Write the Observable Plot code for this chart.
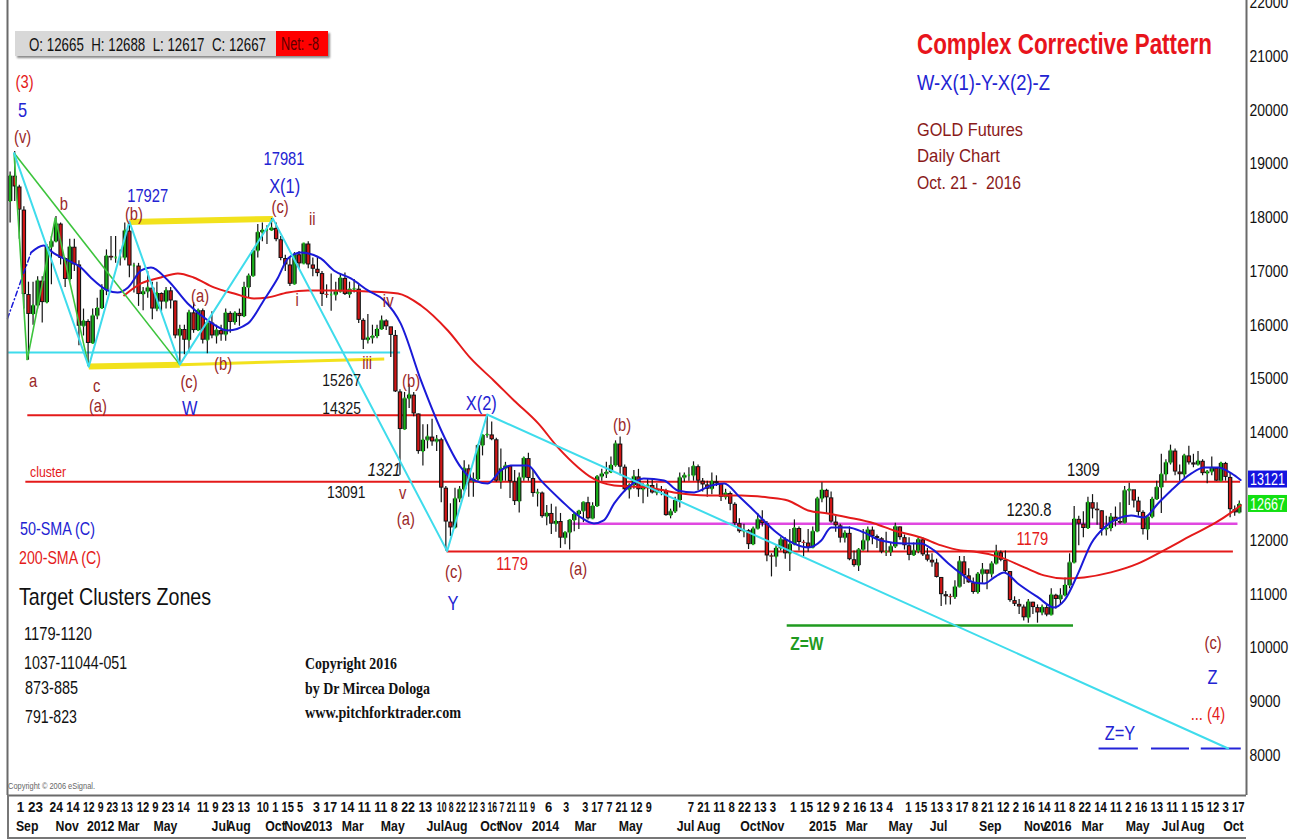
<!DOCTYPE html>
<html><head><meta charset="utf-8">
<script src="https://cdn.jsdelivr.net/npm/d3@7"></script>
<script src="https://cdn.jsdelivr.net/npm/@observablehq/plot@0.6"></script>
<style>
body{margin:0;background:#fff;}
#wrap{position:relative;width:1300px;height:840px;overflow:hidden;background:#fff;
 font-family:"Liberation Sans",Arial,sans-serif;}
#wrap svg{position:absolute;left:0;top:0;}
.t{position:absolute;white-space:pre;line-height:1;transform-origin:left center;transform:translateY(-50%);}
#info{position:absolute;left:15px;top:31px;width:313px;height:25px;background:#d8d8d8;box-shadow:2px 2px 2px #8a8a8a;}
#info .t{top:50%;font-size:19px;color:#111;}
#net{position:absolute;left:261px;top:0;width:52px;height:25px;background:#ff0000;}
#axbox{position:absolute;left:7px;top:795px;width:1239px;height:44px;border-bottom:2px solid #777;border-left:2px solid #777;box-sizing:border-box;}
</style></head><body><div id="wrap"></div>
<script>
// ---------------- DATA ----------------
// weekly candles (Wed of each week, Aug 31 2011 .. Oct 19 2016), price units as in chart (x10)
const firstWeek = "2011-08-31", lastWeekEnd = "2016-10-20";
const firstOpen = 18300;
const weeklyHigh = [
// 2011
18850,19230,18600,18200,16800,
16800,16900,16900,17500,
17650,18020,17900,17250,
17600,17600,17200,16300,16100,
// 2012
16300,16500,16750,17400,
17650,17650,17400,17900,
17927,17150,17150,16700,17000,
16800,16800,16600,16700,
16700,16450,16000,16000,
16280,16420,16300,16300,16050,
16250,16000,16000,16300,
16250,16250,16300,16800,16950,
17400,17870,17900,17850,
17981,17900,17650,17300,
17250,17350,17370,17520,17550,
17250,17250,17000,16750,
// 2013
16950,16800,16950,16970,
16800,16850,16750,16120,
16200,16000,16000,16170,16100,
15900,15900,14800,14750,
14900,14750,14350,14150,14150,
14250,13950,13900,13000,
12680,12970,13000,13480,
13400,13250,13770,13950,14340,
14200,13900,13700,13450,
13350,13300,13250,13550,
13620,13300,12950,12900,12650,
12670,12620,12500,12150,
// 2014
12380,12500,12550,12700,12800,
12700,13200,13320,13450,
13550,13850,13920,13400,
13050,13300,13320,13050,
13150,13150,13050,13000,12950,
12580,12800,13250,13250,
13350,13460,13400,13150,
13100,13250,13200,13050,12950,
12900,12700,12400,12300,
12200,12250,12500,12550,12350,
11750,11900,12050,12050,
12200,12380,12250,12000,
// 2015
12200,12250,12800,13070,12950,
12900,12450,12300,12180,
12250,11800,11850,12200,
12250,12250,12100,12050,
12150,11950,12320,12250,12100,
12050,11950,12050,12050,
11850,11750,11650,11300,11050,
11000,11250,11700,11700,
11470,11300,11400,11570,
11400,11600,11910,11800,11800,
11420,10950,10900,10800,
10900,10850,10800,10800,
// 2016
10800,11100,11000,11100,11300,
11750,12630,12450,12530,
12800,12850,12700,12550,
12450,12500,12620,12700,13000,
13060,12800,12800,12550,
12450,12800,13100,13600,
13500,13770,13700,13400,13600,
13750,13600,13650,13500,
13300,13550,13350,13450,13450,
13250,12640,12730];
const weeklyLow = [
// 2011
17900,18300,17600,16300,15350,
16000,16300,16040,16400,
16750,17550,17120,16700,
16800,17000,15620,15800,15230,
// 2012
15650,16100,16300,16550,
17200,17150,17100,17200,
16880,16600,16350,16270,16500,
16100,16250,16250,16300,
16300,15750,15267,15450,
15500,15850,15900,15650,15470,
15750,15650,15700,15700,
15850,16000,15980,16150,16500,
16900,17250,17550,17500,
17750,17550,17200,17000,
16720,16750,17050,17200,17050,
16900,16900,16350,16500,
// 2013
16260,16450,16600,16550,
16500,16600,16030,15550,
15650,15650,15750,15920,15900,
15400,14750,13210,14050,
14450,14300,13600,13380,13700,
13750,13650,12700,11800,
12070,12320,12700,12900,
12800,12800,13100,13570,13900,
13850,13080,12950,13100,
12780,12650,12510,13100,
13100,12800,12620,12410,12270,
12110,12150,11850,11920,
// 2014
11820,12160,12200,12330,12380,
12400,12630,13100,13150,
13300,13360,13200,12900,
12770,12950,12800,12680,
12800,12860,12830,12830,12450,
12400,12500,12600,13080,
13100,13100,12920,12900,
12800,12850,13000,12720,12750,
12550,12270,12130,12050,
11830,11970,12200,12250,11600,
11320,11500,11800,11650,
11420,11900,11800,11700,
// 2015
11780,11850,12150,12700,12500,
12320,12150,11950,11950,
11620,11500,11420,11800,
11780,11920,11850,11750,
11700,11700,11850,12000,11820,
11620,11700,11750,11700,
11600,11500,11300,10770,10800,
10800,10900,11150,11180,
11200,11000,11000,11200,
11080,11300,11550,11600,11400,
10850,10770,10620,10500,
10460,10620,10460,10600,
// 2016
10580,10620,10720,10800,10950,
11100,11600,11900,12050,
12250,12400,12280,12080,
12080,12160,12250,12300,12350,
12650,12600,12450,12100,
12000,12400,12750,12500,
13100,13400,13200,13100,13150,
13400,13350,13400,13200,
13050,13200,13100,13100,13100,
12420,12450,12510];
const weeklyClose = [
// 2011
18770,18570,18140,16570,16200,
16360,16820,16420,17450,
17550,17880,17240,16850,
17450,17120,15980,16070,15660,
// 2012
16170,16310,16650,17280,
17250,17250,17250,17750,
17100,17100,16570,16620,16690,
16300,16590,16430,16640,
16450,15800,15920,15720,
16230,15900,16270,15720,16040,
15800,15900,15820,16220,
16050,16220,16160,16700,16910,
17380,17720,17760,17760,
17800,17590,17240,17120,
16760,17310,17140,17510,17120,
17040,16960,16570,16560,
// 2013
16560,16620,16870,16570,
16660,16670,16090,15720,
15760,15790,15920,16080,15970,
15810,14760,14060,14630,
14700,14350,13650,13860,13920,
13830,13870,12970,12340,
12230,12770,12940,13330,
13100,13130,13760,13950,13960,
13870,13100,13330,13380,
13090,12720,13160,13520,
13150,12870,12880,12440,12500,
12300,12350,12040,12140,
// 2014
12370,12480,12540,12700,12400,
12630,13180,13230,13260,
13390,13790,13360,12940,
13020,13180,12940,13010,
13020,12880,12940,12920,12460,
12530,12740,13160,13200,
13200,13370,13100,13030,
12950,13090,13050,12800,12870,
12670,12310,12160,12180,
11920,12210,12380,12310,11710,
11690,11850,12010,11750,
11920,12220,11960,11950,
// 2015
11860,12160,12770,12930,12790,
12340,12270,12040,12130,
11640,11530,11820,11990,
12190,12070,12030,11780,
11780,11880,12250,12050,11900,
11720,11800,12010,11730,
11630,11580,11310,10990,10950,
10940,11130,11600,11340,
11210,11030,11370,11450,
11370,11560,11770,11630,11420,
10880,10810,10760,10560,
10850,10750,10650,10750,
// 2016
10610,10980,10900,10970,11160,
11580,12390,12300,12220,
12700,12580,12550,12200,
12220,12430,12350,12320,12920,
12940,12730,12520,12200,
12430,12760,12980,13220,
13440,13660,13270,13220,13570,
13440,13400,13470,13240,
13270,13340,13100,13430,13170,
12570,12510,12667];

// 50-day and 200-day simple moving averages
const sma50 = [
["2011-08-27",16125],["2011-10-02",17352],["2011-10-21",17482],["2011-11-06",17334],["2011-11-27",17204],
["2011-12-17",17074],["2012-01-01",16888],["2012-01-27",16646],["2012-02-11",16609],["2012-02-27",16702],
["2012-03-18",17018],["2012-04-02",17074],["2012-04-28",16832],["2012-05-28",16404],["2012-06-28",16088],
["2012-07-28",15902],["2012-08-28",16033],["2012-09-21",16460],["2012-10-13",16888],["2012-10-28",17241],
["2012-11-17",17352],["2012-12-17",17241],["2013-01-06",17018],["2013-02-01",16869],["2013-02-27",16646],
["2013-03-24",16460],["2013-04-18",16033],["2013-05-19",14973],["2013-06-19",14043],["2013-07-19",13356],
["2013-08-08",13114],["2013-08-29",13058],["2013-09-18",13300],["2013-10-03",13393],["2013-10-29",13393],
["2013-11-18",13114],["2013-12-19",12742],["2014-01-18",12426],["2014-02-07",12314],["2014-02-22",12370],
["2014-03-10",12686],["2014-03-31",12984],["2014-04-24",13151],["2014-05-25",13114],["2014-06-15",12928],
["2014-07-10",12891],["2014-08-05",13021],["2014-08-25",13058],["2014-09-15",12835],["2014-10-09",12556],
["2014-11-09",12184],["2014-11-30",11998],["2014-12-31",11868],["2015-01-20",11998],["2015-02-04",12240],
["2015-03-02",12240],["2015-03-26",12147],["2015-04-21",11998],["2015-05-26",11943],["2015-06-21",11943],
["2015-07-11",11813],["2015-08-02",11571],["2015-08-21",11385],["2015-09-10",11218],["2015-09-26",11199],
["2015-10-11",11311],["2015-10-26",11404],["2015-11-16",11199],["2015-12-17",10939],["2016-01-10",10753],
["2016-01-26",10883],["2016-02-16",11385],["2016-03-07",11943],["2016-03-27",12240],["2016-04-17",12407],
["2016-05-07",12463],["2016-05-27",12426],["2016-06-17",12686],["2016-07-07",12928],["2016-08-07",13244],
["2016-08-26",13356],["2016-09-17",13356],["2016-10-07",13244],["2016-10-21",13121]];
const sma200 = [
["2012-02-21",16553],["2012-03-18",16776],["2012-04-17",16888],["2012-05-13",16962],["2012-06-06",16888],
["2012-07-07",16702],["2012-08-07",16590],["2012-09-06",16497],["2012-09-27",16516],["2012-10-28",16609],
["2012-11-27",16646],["2013-01-06",16646],["2013-02-27",16628],["2013-04-14",16590],["2013-05-19",16367],
["2013-06-29",15902],["2013-08-03",15382],["2013-09-07",14973],["2013-10-08",14601],["2013-11-14",14174],
["2013-12-14",13728],["2014-01-14",13356],["2014-02-03",13170],["2014-02-18",13077],["2014-03-10",13021],
["2014-05-01",12984],["2014-06-09",12891],["2014-07-31",12835],["2014-09-20",12835],["2014-10-31",12798],
["2014-11-30",12742],["2014-12-31",12556],["2015-01-30",12500],["2015-03-02",12426],["2015-04-11",12314],
["2015-05-11",12184],["2015-06-21",12054],["2015-07-22",11906],["2015-08-21",11813],["2015-09-10",11794],
["2015-10-21",11683],["2015-11-26",11497],["2015-12-26",11348],["2016-01-26",11292],["2016-02-25",11311],
["2016-04-06",11404],["2016-05-18",11571],["2016-06-26",11813],["2016-08-07",12091],["2016-09-11",12314],
["2016-10-07",12519],["2016-10-21",12649]];

// wave pivots
const cyanPivots = [["2011-09-06",19200],["2011-12-29",15230],["2012-02-29",17927],["2012-05-16",15267],
 ["2012-10-05",17981],["2013-06-28",11800],["2013-08-28",14340],["2016-10-02",8130]];
const greenSegments = [
 ["2011-09-06",19200,"2011-09-26",15350],["2011-09-26",15350,"2011-11-08",18000],
 ["2011-11-08",18000,"2011-12-29",15230],["2011-09-06",19200,"2012-05-16",15267]];
const yellowThick = [["2012-02-29",17920,"2012-10-05",17975],["2011-12-29",15230,"2012-05-16",15267]];
const yellowThin = [["2012-05-16",15267,"2013-03-24",15370]];
// horizontal levels [price, from, to]
const redLevels = [[14325,"2011-09-27","2013-08-28"],[13091,"2011-09-24","2016-10-21"],[11794,"2013-06-28","2016-10-10"]];
const magentaLevel = [[12308,"2014-01-06","2016-10-17"]];
const cyanLevel = [[15493,"2011-08-27","2013-04-18"]];
const zwLevel = [[10417,"2014-11-29","2016-02-09"]];
const zyLevel = [[8131,"2016-03-19","2016-05-18"],[8131,"2016-06-07","2016-08-04"],[8131,"2016-08-22","2016-10-22"]];

// annotations [text, date, price]
const brownLabels = [
["(v)","2011-09-19",19490],["b","2011-11-21",18245],["(b)","2012-03-07",18059],["(c)","2012-10-16",18189],
["ii","2012-12-04",17966],["i","2012-11-11",16460],["(a)","2012-06-16",16535],["(b)","2012-07-21",15270],
["a","2011-10-05",14954],["c","2012-01-10",14861],["(a)","2012-01-12",14490],["(c)","2012-05-30",14936],
["iii","2013-02-26",15289],["iv","2013-03-30",16442],["(b)","2013-05-04",14954],["v","2013-04-21",12872],
["(a)","2013-04-26",12389],["(c)","2013-07-08",11404],["(a)","2014-01-14",11459],["(b)","2014-03-22",14136],
["(c)","2016-09-09",10083]];
const blueNumbers = [["17927","2012-03-28",18394],["17981","2012-10-22",19081]];
const blueLabels = [["5","2011-09-19",19992],["X(1)","2012-10-23",18579],["W","2012-05-31",14452],
["X(2)","2013-08-19",14545],["Y","2013-07-07",10827],["Z","2016-09-08",9452],["Z=Y","2016-04-20",8411]];
const redLabels = [["(3)","2011-09-22",20513],["1179","2013-10-05",11552],["1179","2015-12-08",12017],["... (4)","2016-09-01",8764]];
const clusterLabel = [["cluster","2011-10-28",13263]];
const blackLabels = [["15267","2013-01-18",14973],["14325","2013-01-18",14452],["13091","2013-01-25",12891]];
const blackLabels4 = [["1309","2016-02-24",13300],["1230.8","2015-12-03",12556]];
const italicLabels = [["1321","2013-03-24",13300]];
const greenLabels = [["Z=W","2014-12-29",10083]];

// axes (13000 is hidden behind the value tags in the original)
const yTicks = [8000,9000,10000,11000,12000,14000,15000,16000,17000,18000,19000,20000,21000,22000];
// day-number tick groups as printed on the axis [text, first tick, last tick]
const dayGroups = [
["1 23","2011-09-11","2011-10-21"],["24 14","2011-10-31","2011-12-16"],["12 9 23 13","2011-12-21","2012-03-06"],
["12 9 23 14","2012-03-12","2012-06-01"],["11 9 23 13","2012-06-12","2012-09-01"],["10 1 15 5","2012-09-11","2012-11-21"],
["3 17 14 11 11 8 22 13","2012-12-06","2013-06-06"],["10 8 22 12 3 16 7 21 11 9","2013-06-13","2013-11-10"],
["6","2013-11-25","2013-12-06"],["3","2013-12-23","2014-01-01"],["3 17 7 21 12 9","2014-01-21","2014-05-07"],
["7 21 11 8 22 13 3","2014-07-01","2014-11-13"],["1 15 12 9 2 16 13 4","2014-12-04","2015-05-10"],
["1 15 13 3 17 8 21 12 2 16 14 11 8 22 14 11 2 16 13 11 1 15 12 3 17","2015-05-29","2016-10-28"]];
const monthTicks = [["Sep","2011-09-26"],["Nov","2011-11-26"],["2012","2012-01-16"],["Mar","2012-02-28"],["May","2012-04-24"],
["Jul","2012-07-17"],["Aug","2012-08-14"],["Oct","2012-10-09"],["Nov","2012-11-09"],["2013","2012-12-14"],["Mar","2013-02-04"],
["May","2013-04-06"],["Jul","2013-06-10"],["Aug","2013-07-11"],["Oct","2013-09-02"],["Nov","2013-10-03"],["2014","2013-11-25"],
["Mar","2014-01-25"],["May","2014-04-04"],["Jul","2014-06-27"],["Aug","2014-08-01"],["Oct","2014-10-04"],["Nov","2014-11-07"],
["2015","2015-01-22"],["Mar","2015-03-15"],["May","2015-05-21"],["Jul","2015-07-18"],["Sep","2015-10-05"],["Nov","2015-12-13"],
["2016","2016-01-16"],["Mar","2016-03-09"],["May","2016-05-17"],["Jul","2016-07-06"],["Aug","2016-08-09"],["Oct","2016-10-10"]];
const tagValues = [13121, 12667];
const xDomainDates = ["2011-08-27","2016-10-30"];
const yDomain = [7256, 22037];

// ---------------- CHART ----------------
const parse = d3.utcParse("%Y-%m-%d");
const weeks = d3.utcWednesday.range(parse(firstWeek), parse(lastWeekEnd));
const candles = weeklyClose.map((c, i) => ({
  date: weeks[i], open: i ? weeklyClose[i - 1] : firstOpen, high: weeklyHigh[i], low: weeklyLow[i], close: c
}));
const pts = a => a.map(d => ({date: parse(d[0]), v: d[1]}));
const segs = a => a.map(d => ({x1: parse(d[0]), y1: d[1], x2: parse(d[2]), y2: d[3]}));
const lev = a => a.map(d => ({p: d[0], x1: parse(d[1]), x2: parse(d[2])}));
const FONT = "Liberation Sans, Arial, sans-serif";
const NARROW = 0.82;
const lbl = (arr, o) => Plot.text(arr, {x: d => parse(d[1]), y: d => d[2], text: d => d[0],
  textAnchor: "middle", lineAnchor: "middle", fontFamily: FONT, ...o});

const xDomain = xDomainDates.map(parse);
const chart = Plot.plot({
  width: 1300, height: 840,
  marginLeft: 7, marginRight: 54, marginTop: 0, marginBottom: 45,
  x: {type: "utc", domain: xDomain, axis: null},
  y: {domain: yDomain, axis: null},
  style: {fontFamily: FONT, background: "transparent", overflow: "visible"},
  marks: [
    // horizontal levels
    Plot.ruleY(lev(cyanLevel), {y: "p", x1: "x1", x2: "x2", stroke: "#3fdcec", strokeWidth: 2}),
    Plot.ruleY(lev(redLevels), {y: "p", x1: "x1", x2: "x2", stroke: "#e41a1a", strokeWidth: 2}),
    Plot.ruleY(lev(magentaLevel), {y: "p", x1: "x1", x2: "x2", stroke: "#e048e0", strokeWidth: 2.5}),
    Plot.ruleY(lev(zwLevel), {y: "p", x1: "x1", x2: "x2", stroke: "#1f9a1f", strokeWidth: 2.5}),
    Plot.ruleY(lev(zyLevel), {y: "p", x1: "x1", x2: "x2", stroke: "#2424d8", strokeWidth: 2}),
    // yellow channel lines
    Plot.link(segs(yellowThick), {x1: "x1", y1: "y1", x2: "x2", y2: "y2", stroke: "#f2e21c", strokeWidth: 6}),
    Plot.link(segs(yellowThin), {x1: "x1", y1: "y1", x2: "x2", y2: "y2", stroke: "#f2e21c", strokeWidth: 3}),
    // candles: wick, black outline body, coloured body
    Plot.ruleX(candles, {x: "date", y1: "low", y2: "high", stroke: "#141414", strokeWidth: 1.2}),
    Plot.ruleX(candles, {x: "date", y1: "open", y2: "close", stroke: "#141414", strokeWidth: 4.4}),
    Plot.ruleX(candles.filter(d => d.close >= d.open), {x: "date", y1: "open", y2: "close", stroke: "#19b019", strokeWidth: 2.2, insetTop: 1, insetBottom: 1}),
    Plot.ruleX(candles.filter(d => d.close < d.open), {x: "date", y1: "open", y2: "close", stroke: "#d01616", strokeWidth: 2.2, insetTop: 1, insetBottom: 1}),
    // moving averages
    Plot.line(pts(sma200), {x: "date", y: "v", stroke: "#e41a1a", strokeWidth: 2, curve: "monotone-x"}),
    Plot.line(pts(sma50).slice(0, 2), {x: "date", y: "v", stroke: "#1a1ad8", strokeWidth: 1.5, strokeDasharray: "5,3,1,3"}),
    Plot.line(pts(sma50).slice(1), {x: "date", y: "v", stroke: "#1a1ad8", strokeWidth: 2, curve: "monotone-x"}),
    // wave lines
    Plot.link(segs(greenSegments), {x1: "x1", y1: "y1", x2: "x2", y2: "y2", stroke: "#3cc43c", strokeWidth: 1.6}),
    Plot.line(pts(cyanPivots), {x: "date", y: "v", stroke: "#3fdcec", strokeWidth: 2}),
    // frame
    Plot.ruleX(xDomain, {stroke: "#6a6a6a", strokeWidth: 2}),
    Plot.ruleY([yDomain[0]], {stroke: "#6a6a6a", strokeWidth: 2}),
    // labels
    lbl(brownLabels, {fill: "#9a2828", fontSize: 18}),
    lbl(blueLabels, {fill: "#2323d2", fontSize: 20}),
    lbl(blueNumbers, {fill: "#2323d2", fontSize: 18}),
    lbl(redLabels, {fill: "#e41a1a", fontSize: 18}),
    lbl(clusterLabel, {fill: "#e41a1a", fontSize: 15}),
    lbl(blackLabels, {fill: "#151515", fontSize: 17}),
    lbl(blackLabels4, {fill: "#151515", fontSize: 18}),
    lbl(italicLabels, {fill: "#151515", fontSize: 18, fontStyle: "italic"}),
    lbl(greenLabels, {fill: "#1f9a1f", fontSize: 19, fontWeight: "bold"}),
    // right axis
    Plot.text(yTicks, {y: d => d, text: d => String(d), frameAnchor: "right", textAnchor: "start", dx: 3,
      fontSize: 17, fill: "#111", fontFamily: FONT}),
    // month row of the time axis
    Plot.text(monthTicks, {x: d => parse(d[1]), text: d => d[0], frameAnchor: "bottom",
      textAnchor: "middle", dy: 35, fontSize: 15, fontWeight: "bold", fill: "#111", fontFamily: FONT})
  ]
});

const wrap = document.getElementById("wrap");
wrap.appendChild(chart);
const svg = d3.select(chart);
// narrow the type horizontally (the original uses a condensed face); keep em-based y offsets
svg.selectAll("text").each(function () {
  let tr = this.getAttribute("transform") || "";
  const xa = this.getAttribute("x");
  if (xa != null && /^-?[\d.]+$/.test(xa)) {
    this.removeAttribute("x");
    tr = `translate(${xa},0) ` + tr;
  }
  this.setAttribute("transform", tr + ` scale(${NARROW},1)`);
});
const xs = chart.scale("x"), ys = chart.scale("y");
const yBottom = ys.apply(yDomain[0]);
// day-number row of the time axis
dayGroups.forEach(([txt, d0, d1]) => {
  const x0 = xs.apply(parse(d0)), x1 = xs.apply(parse(d1));
  svg.append("text").attr("x", x0).attr("y", yBottom + 12).attr("dy", "0.35em").attr("text-anchor", "start")
    .attr("textLength", x1 - x0).attr("lengthAdjust", "spacingAndGlyphs")
    .attr("font-size", 15).attr("font-weight", "bold").attr("font-family", FONT).attr("fill", "#111").text(txt);
});
// value tags on the right axis
const tagColors = ["#1414e0", "#12e012"];
tagValues.forEach((v, i) => {
  const y = ys.apply(v);
  svg.append("rect").attr("x", 1248).attr("y", y - 9).attr("width", 39).attr("height", 17).attr("fill", tagColors[i]);
  svg.append("text").attr("x", 1250).attr("y", y).attr("dy", "0.35em").attr("fill", "#fff").attr("text-anchor", "start")
    .attr("textLength", 35).attr("lengthAdjust", "spacingAndGlyphs")
    .attr("font-size", 16).attr("font-family", FONT).text(v);
});

// overlay texts (info box, titles, legend); data-w = width of the printed text
const html = `
<div id="axbox"></div>
<div id="info"><span class="t" data-w="237" style="left:14px">O: 12665  H: 12688  L: 12617  C: 12667</span>
 <div id="net"><span class="t" data-w="38" style="left:5px;top:50%;font-size:18px;color:#5a0000">Net: -8</span></div></div>
<div class="t" data-w="295" style="left:917px;top:44px;font-size:29px;font-weight:bold;color:#e8141c">Complex Corrective Pattern</div>
<div class="t" data-w="133" style="left:917px;top:83px;font-size:22px;color:#2323d2">W-X(1)-Y-X(2)-Z</div>
<div class="t" data-w="106" style="left:917px;top:129px;font-size:19px;color:#8a1a1a">GOLD Futures</div>
<div class="t" data-w="83" style="left:917px;top:155px;font-size:19px;color:#8a1a1a">Daily Chart</div>
<div class="t" data-w="104" style="left:917px;top:182px;font-size:19px;color:#8a1a1a">Oct. 21 -  2016</div>
<div class="t" data-w="75" style="left:20px;top:528px;font-size:19px;color:#2323d2">50-SMA (C)</div>
<div class="t" data-w="82" style="left:19px;top:557px;font-size:19px;color:#e41a1a">200-SMA (C)</div>
<div class="t" data-w="192" style="left:19px;top:597px;font-size:24px;color:#111">Target Clusters Zones</div>
<div class="t" data-w="68" style="left:24px;top:634px;font-size:18px;color:#111">1179-1120</div>
<div class="t" data-w="103" style="left:24px;top:663px;font-size:18px;color:#111">1037-11044-051</div>
<div class="t" data-w="53" style="left:25px;top:688px;font-size:18px;color:#111">873-885</div>
<div class="t" data-w="52" style="left:25px;top:717px;font-size:18px;color:#111">791-823</div>
<div class="t" data-w="92" style="left:305px;top:664px;font-size:16px;font-weight:bold;color:#111;font-family:'Liberation Serif',serif">Copyright 2016</div>
<div class="t" data-w="125" style="left:305px;top:689px;font-size:16px;font-weight:bold;color:#111;font-family:'Liberation Serif',serif">by Dr Mircea Dologa</div>
<div class="t" data-w="156" style="left:305px;top:713px;font-size:16px;font-weight:bold;color:#111;font-family:'Liberation Serif',serif">www.pitchforktrader.com</div>
<div class="t" data-w="87" style="left:8px;top:786px;font-size:9px;color:#666">Copyright © 2006 eSignal.</div>`;
wrap.insertAdjacentHTML("beforeend", html);
document.querySelectorAll("[data-w]").forEach(el => {
  const w = el.getBoundingClientRect().width;
  el.style.transform = `translateY(-50%) scaleX(${(+el.dataset.w / w).toFixed(3)})`;
});
</script></body></html>
